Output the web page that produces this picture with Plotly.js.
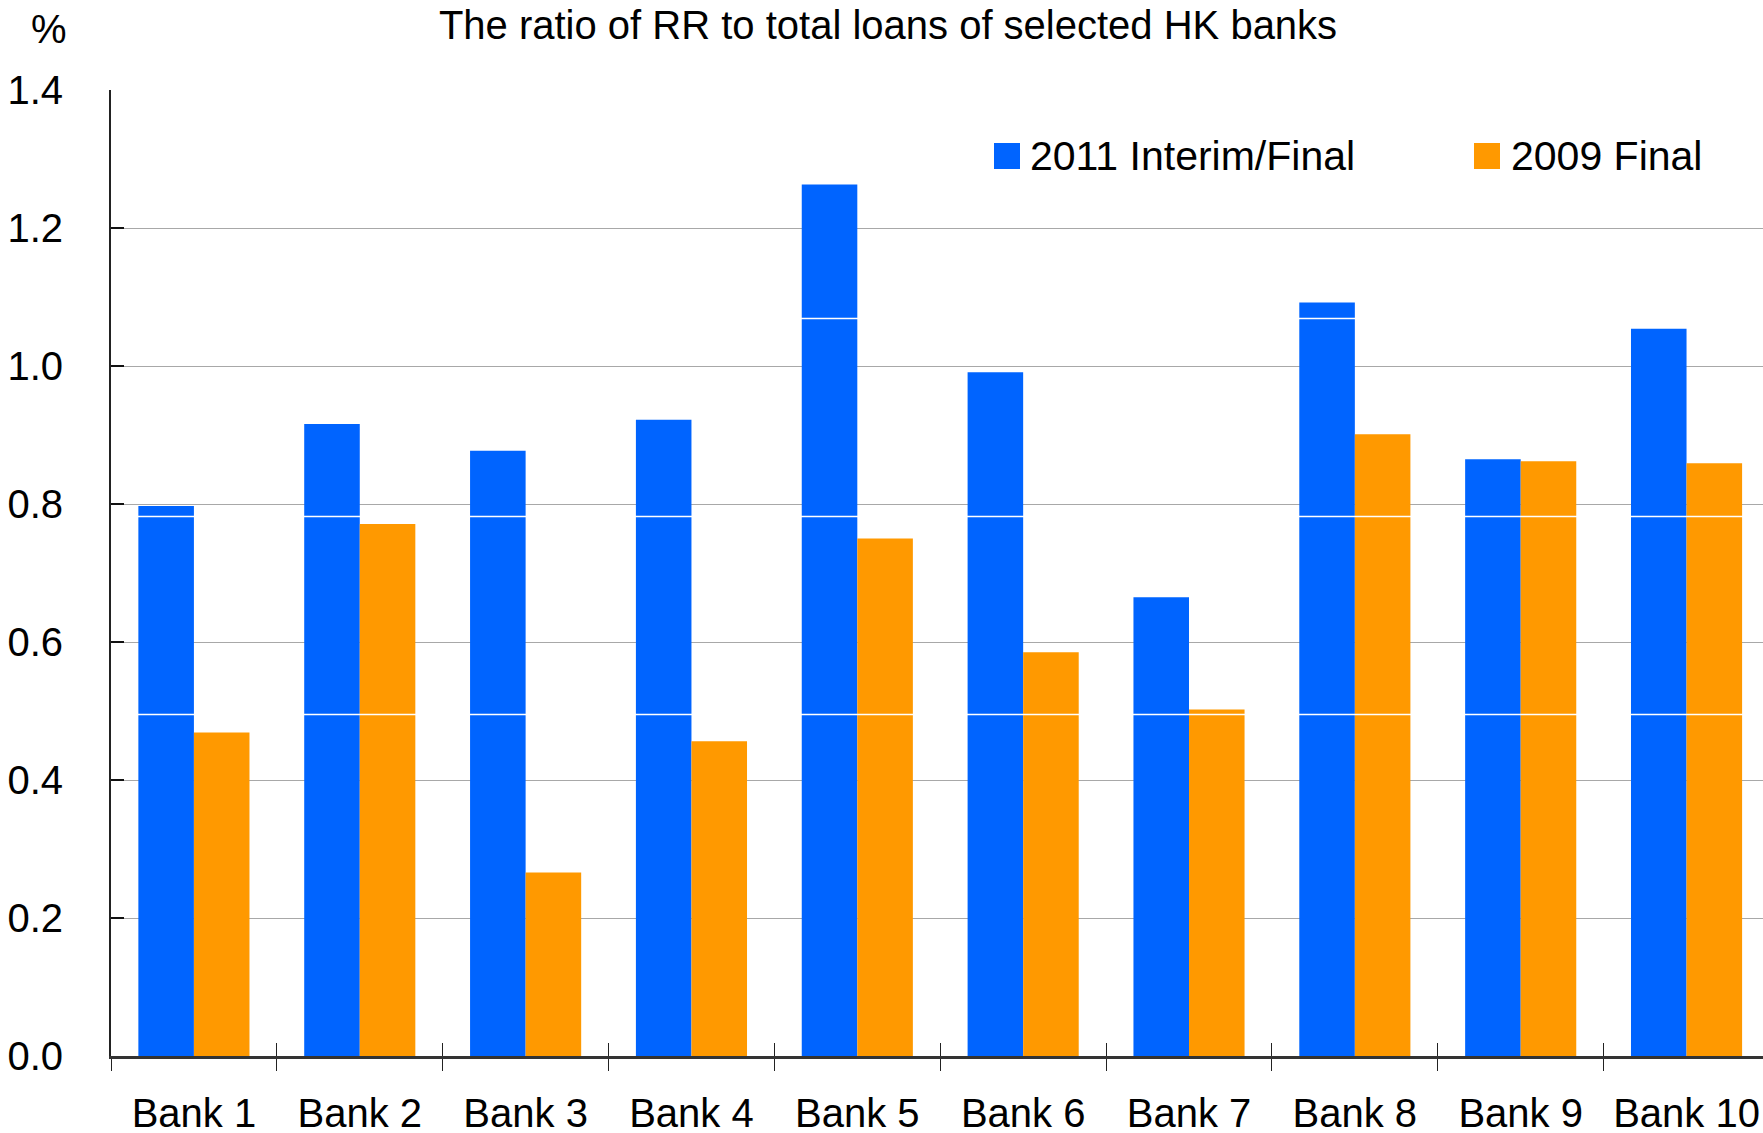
<!DOCTYPE html>
<html>
<head>
<meta charset="utf-8">
<script src="https://cdn.plot.ly/plotly-3.0.1.min.js"></script>
<style>
  html, body { margin: 0; padding: 0; background: #fff; }
  #chart { width: 1763px; height: 1133px; }
</style>
</head>
<body>
<div id="chart"></div>
<script>
// ---- data ----
const banks = ["Bank 1", "Bank 2", "Bank 3", "Bank 4", "Bank 5", "Bank 6", "Bank 7", "Bank 8", "Bank 9", "Bank 10"];
const series2011Name = "2011 Interim/Final";
const series2011 = [0.797, 0.916, 0.877, 0.922, 1.263, 0.991, 0.665, 1.092, 0.865, 1.054];
const series2009Name = "2009 Final";
const series2009 = [0.469, 0.771, 0.266, 0.456, 0.750, 0.585, 0.502, 0.901, 0.862, 0.859];
const yTickVals = [0, 0.2, 0.4, 0.6, 0.8, 1.0, 1.2, 1.4];
const yTickText = ["0.0", "0.2", "0.4", "0.6", "0.8", "1.0", "1.2", "1.4"];
const chartTitle = "The ratio of RR to total loans of selected HK banks";
const unitLabel = "%";
const whiteRules = [0.495, 0.782, 1.069]; // thin white lines seen across the bars

// ---- layout geometry ----
const W = 1763, H = 1133;
const M = { l: 111, r: 0, t: 90, b: 77 };
const PW = W - M.l - M.r, PH = H - M.t - M.b;
const px2x = p => (p - M.l) / PW;
const px2y = p => (H - M.b - p) / PH;

const BLUE = "#0064FF", ORANGE = "#FF9900";
const FONT = "Liberation Sans, Arial, Helvetica, sans-serif";

const traces = [
  { type: "bar", name: series2011Name, x: banks, y: series2011, marker: { color: BLUE, line: { width: 0 } }, showlegend: false, hoverinfo: "x+y" },
  { type: "bar", name: series2009Name, x: banks, y: series2009, marker: { color: ORANGE, line: { width: 0 } }, showlegend: false, hoverinfo: "x+y" },
  // helper trace to carry categories on the overlay axis (upper half of the crossing ticks)
  { type: "scatter", x: banks, y: banks.map(() => null), xaxis: "x2", mode: "none", showlegend: false, hoverinfo: "skip" }
];

const xRange = [-0.5, 9.461];

const shapes = whiteRules.map(v => ({
  type: "line", xref: "paper", yref: "y", x0: 0, x1: 1, y0: v, y1: v,
  line: { color: "#ffffff", width: 1.5 }, layer: "above"
}));

// legend swatches
shapes.push(
  { type: "rect", xref: "paper", yref: "paper", x0: px2x(994), x1: px2x(1020), y0: px2y(169), y1: px2y(143), fillcolor: BLUE, line: { width: 0 } },
  { type: "rect", xref: "paper", yref: "paper", x0: px2x(1474), x1: px2x(1500), y0: px2y(169), y1: px2y(143), fillcolor: ORANGE, line: { width: 0 } }
);

const annotations = [
  { text: series2011Name, xref: "paper", yref: "paper", x: px2x(1028), y: px2y(156), xanchor: "left", yanchor: "middle", showarrow: false, font: { family: FONT, size: 41, color: "#000" } },
  { text: series2009Name, xref: "paper", yref: "paper", x: px2x(1509), y: px2y(156), xanchor: "left", yanchor: "middle", showarrow: false, font: { family: FONT, size: 41, color: "#000" } },
  { text: unitLabel, xref: "paper", yref: "paper", x: px2x(49), y: px2y(29), xanchor: "center", yanchor: "middle", showarrow: false, font: { family: FONT, size: 40, color: "#000" } }
];

const layout = {
  width: W, height: H,
  margin: M,
  paper_bgcolor: "#fff", plot_bgcolor: "#fff",
  font: { family: FONT, size: 40, color: "#000" },
  title: {
    text: chartTitle, xref: "container", yref: "container",
    x: 888 / W, y: 1 - 25 / H, xanchor: "center", yanchor: "middle",
    font: { family: FONT, size: 40, color: "#000" }
  },
  barmode: "group", bargap: 0.33, bargroupgap: 0,
  xaxis: {
    type: "category", categoryorder: "array", categoryarray: banks,
    range: xRange, fixedrange: true,
    showline: true, linecolor: "#333", linewidth: 2.5,
    showgrid: false, zeroline: false,
    ticks: "outside", ticklen: 12, tickwidth: 1, tickcolor: "#222", tickson: "boundaries",
    tickfont: { family: FONT, size: 40, color: "#000" },
    ticklabelstandoff: 20
  },
  xaxis2: {
    type: "category", categoryorder: "array", categoryarray: banks,
    overlaying: "x", anchor: "y", range: xRange,
    showline: false, showgrid: false, zeroline: false,
    ticks: "inside", ticklen: 13, tickwidth: 1, tickcolor: "#222", tickson: "boundaries",
    showticklabels: false
  },
  yaxis: {
    range: [0, 1.4], fixedrange: true,
    tickvals: yTickVals, ticktext: yTickText,
    showline: true, linecolor: "#222", linewidth: 2,
    showgrid: true, gridcolor: "#a8a8a8", gridwidth: 1,
    zeroline: false,
    ticks: "inside", ticklen: 13, tickwidth: 1.5, tickcolor: "#111",
    tickfont: { family: FONT, size: 40, color: "#000" },
    ticklabelstandoff: 38
  },
  shapes: shapes,
  annotations: annotations,
  showlegend: false
};

Plotly.newPlot("chart", traces, layout, { displayModeBar: false, staticPlot: true });
</script>
</body>
</html>
